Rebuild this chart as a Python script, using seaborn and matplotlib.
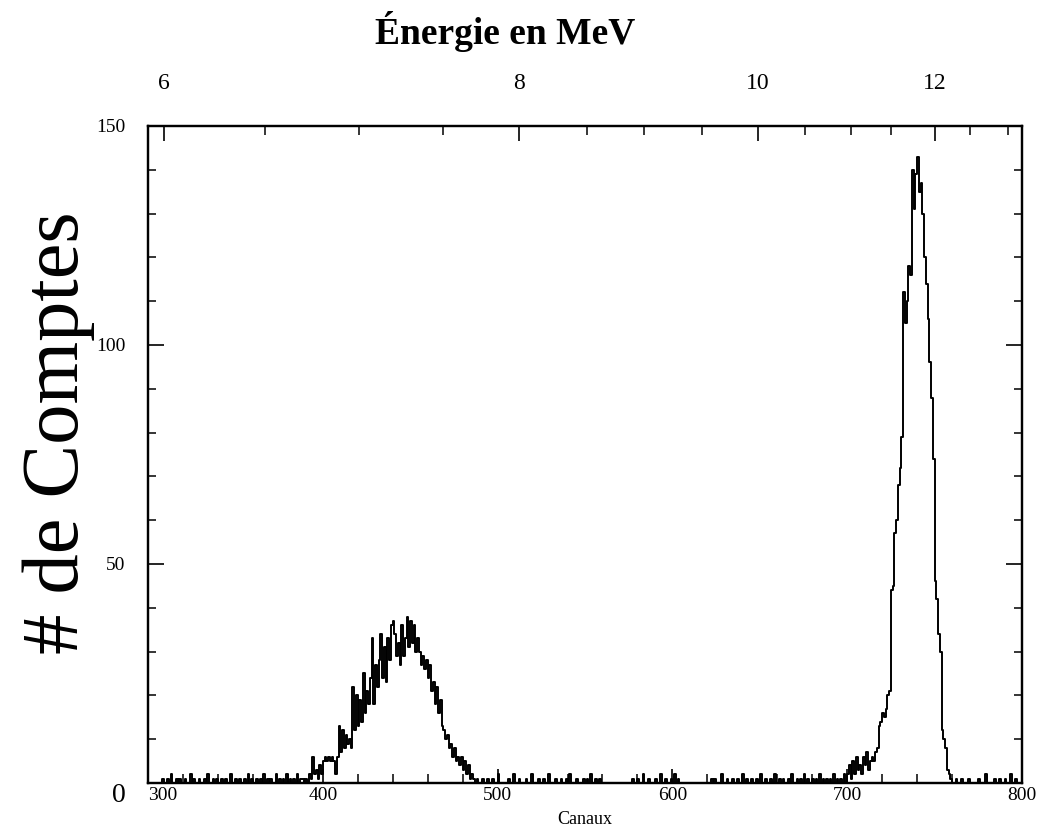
import numpy as np
import pandas as pd
import matplotlib
matplotlib.use("Agg")
import matplotlib.pyplot as plt
import seaborn as sns

# ---------------- data ----------------
channel_min, channel_max = 300, 800

left_peak_start = 390
left_peak_counts = [
    1, 0, 2, 1, 6, 2, 3, 1, 4, 2,
    5, 6, 5, 6, 5, 6, 5, 2, 6, 13,
    7, 12, 8, 11, 9, 10, 8, 22, 12, 20,
    13, 19, 14, 25, 16, 21, 18, 24, 33, 18,
    27, 22, 28, 34, 24, 31, 23, 33, 28, 36,
    37, 34, 29, 32, 27, 36, 29, 33, 38, 31,
    37, 32, 36, 30, 33, 30, 27, 29, 26, 28,
    24, 27, 21, 23, 18, 22, 16, 19, 13, 12,
    10, 11, 8, 9, 6, 8, 5, 6, 4, 6,
    3, 5, 2, 4, 1, 2, 1, 0, 1, 0,
]

right_peak_start = 700
right_peak_counts = [
    2, 4, 1, 5, 2, 6, 3, 4, 2, 6,
    4, 7, 3, 5, 6, 5, 7, 8, 13, 14,
    16, 15, 17, 20, 21, 44, 45, 57, 60, 68,
    72, 79, 112, 105, 110, 118, 116, 140, 131, 139,
    143, 135, 137, 130, 120, 114, 106, 96, 88, 74,
    46, 42, 34, 30, 12, 10, 8, 3, 2, 1,
]

noise_channels = [
    308, 311, 313, 316, 318, 321, 324, 326, 329, 332, 334, 337, 339, 342,
    344, 347, 350, 352, 355, 357, 359, 362, 364, 366, 368, 370, 373, 375,
    377, 379, 381, 383, 385, 387, 388,
    491, 494, 497, 500, 506, 509, 512, 516, 519, 523, 526, 529, 533, 536,
    539, 541, 545, 549, 551, 553, 556, 558, 577, 580, 583, 586, 590, 593,
    596, 599, 601, 603, 622, 624, 628, 631, 634, 637, 640, 642, 645, 648,
    650, 653, 656, 658, 661, 663, 666, 668, 671, 673, 675, 677, 680, 682,
    684, 686, 688, 690, 692, 694, 696, 698,
    762, 765, 769, 775, 779, 784, 787, 790, 793, 796,
]
noise_counts = [
    1, 1, 2, 1, 1, 1, 2, 1, 1, 1, 2, 1, 1, 1,
    1, 2, 1, 1, 1, 2, 1, 1, 1, 2, 1, 1, 2, 1,
    1, 2, 1, 1, 2, 1, 1,
    1, 1, 1, 2, 1, 2, 1, 1, 2, 1, 1, 2, 1, 1,
    1, 2, 1, 1, 1, 2, 1, 1, 1, 1, 2, 1, 1, 2,
    1, 1, 2, 1, 1, 1, 2, 1, 1, 1, 2, 1, 1, 1,
    2, 1, 1, 2, 1, 1, 1, 2, 1, 1, 2, 1, 1, 1,
    2, 1, 1, 1, 2, 1, 1, 2,
    1, 1, 1, 1, 2, 1, 1, 1, 2, 1,
]

x_major_ticks = [300, 400, 500, 600, 700, 800]
x_minor_step = 20
y_major_ticks = [0, 50, 100, 150]
y_minor_step = 10

energy_labels = ["6", "8", "10", "12"]
energy_label_channels = [309, 512, 649, 750]
energy_minor_channels = [367, 421, 469, 551, 584, 617, 676, 702, 725, 770, 792]

# ---------------- assemble the spectrum ----------------
channels = np.arange(channel_min, channel_max)
counts = np.zeros(len(channels))
for c, v in zip(noise_channels, noise_counts):
    counts[c - channel_min] = v
i0 = left_peak_start - channel_min
counts[i0:i0 + len(left_peak_counts)] = left_peak_counts
i1 = right_peak_start - channel_min
counts[i1:i1 + len(right_peak_counts)] = right_peak_counts
df = pd.DataFrame({"Canal": channels + 0.5, "Comptes": counts})

# ---------------- plot ----------------
sns.set_style("ticks")
plt.rcParams["font.family"] = ["Liberation Serif", "DejaVu Serif"]
plt.rcParams["text.color"] = "black"
plt.rcParams["axes.labelcolor"] = "black"
plt.rcParams["xtick.color"] = "black"
plt.rcParams["ytick.color"] = "black"

fig = plt.figure(figsize=(10.45, 8.31), dpi=100)
ax = fig.add_axes([0.1416, 0.0578, 0.8364, 0.7906])

sns.histplot(data=df, x="Canal", weights="Comptes",
             binwidth=1, binrange=(channel_min, channel_max),
             element="step", fill=False, color="black", linewidth=1.4, ax=ax)

ax.set_xlim(channel_min, channel_max)
ax.set_ylim(0, 150)
for s in ax.spines.values():
    s.set_visible(True)
    s.set_linewidth(1.6)
    s.set_color("black")

ax.set_xticks(x_major_ticks)
ax.set_xticks(np.arange(channel_min, channel_max + 1, x_minor_step), minor=True)
ax.set_yticks(y_major_ticks)
ax.set_yticks(np.arange(0, 151, y_minor_step), minor=True)

ax.tick_params(axis="x", which="major", direction="in", length=10, width=1.2,
               pad=3, labelsize=14, top=False, bottom=True)
ax.tick_params(axis="x", which="minor", direction="in", length=6.5, width=1.1,
               top=False, bottom=True)
ax.tick_params(axis="y", which="major", direction="in", length=11.5, width=1.2,
               pad=16, labelsize=14, left=True, right=True)
ax.tick_params(axis="y", which="minor", direction="in", length=6, width=1.1,
               left=True, right=True)

xl = ax.get_xticklabels()
xl[0].set_ha("left")
yl = ax.get_yticklabels()
yl[0].set_fontsize(20)
yl[0].set_va("top")

ax.set_xlabel("Canaux", fontsize=13, labelpad=5)
ax.set_ylabel("# de Comptes", fontsize=58)
ax.yaxis.label.set_va("center")
ax.yaxis.set_label_coords(-0.102, 0.533)

# top energy axis
ax2 = ax.twiny()
ax2.set_xlim(channel_min, channel_max)
ax2.set_xticks(energy_label_channels, labels=energy_labels)
ax2.set_xticks(energy_minor_channels, minor=True)
ax2.tick_params(axis="x", which="major", direction="in", length=11, width=1.2,
                pad=23, labelsize=17, colors="black")
ax2.tick_params(axis="x", which="minor", direction="in", length=6.5, width=1.1)
for s in ax2.spines.values():
    s.set_linewidth(1.6)
    s.set_color("black")

fig.text(505 / 1045, 1 - 32 / 831, "Énergie en MeV", ha="center", va="center",
         fontsize=27, fontweight="bold", color="black")

fig.savefig("out.png", dpi=100)
